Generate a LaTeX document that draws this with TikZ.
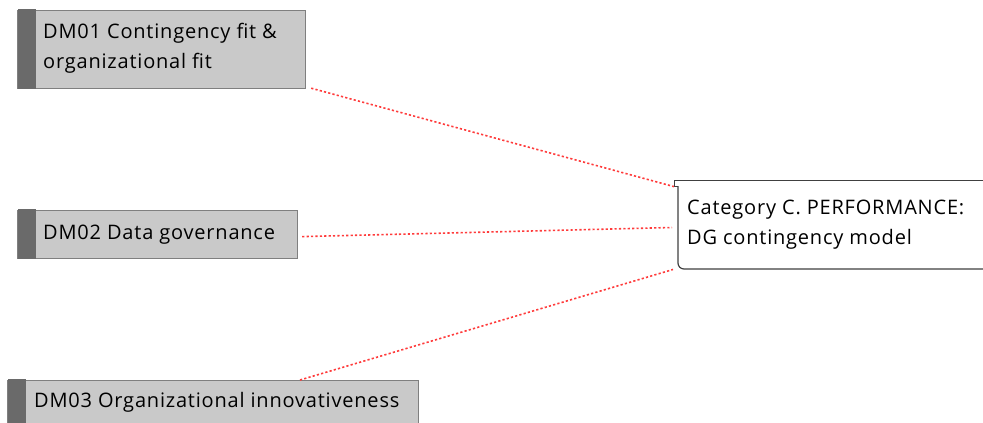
\documentclass[tikz,border=0pt]{standalone}
\usepackage{fontspec}
\setmainfont{Open Sans}[LetterSpace=4]
\definecolor{boxfill}{HTML}{C9C9C9}
\definecolor{boxline}{HTML}{7F7F7F}
\definecolor{stripcol}{HTML}{6A6A6A}
\definecolor{linkred}{HTML}{FF3B3B}
\begin{document}
\begin{tikzpicture}[x=1pt,y=-1pt,
  dmbox/.style={draw=boxline,line width=1.2pt,fill=boxfill,anchor=north west,inner sep=0pt},
  lbl/.style={anchor=base west,inner sep=0pt,align=left,text=black,
    font=\fontsize{20}{30}\selectfont},
  catbox/.style={draw=black!75,line width=1.2pt,fill=white},
  link/.style={draw=linkred,line width=1.6pt,dash pattern=on 2.2pt off 2.2pt}]
\useasboundingbox (0,0) rectangle (983,423);
\clip (0,0) rectangle (983,423);

% requirement boxes
\node[dmbox,minimum width=288pt,minimum height=78pt] (b1) at (17,10) {};
\node[dmbox,minimum width=280pt,minimum height=48pt] (b2) at (17,210) {};
\node[dmbox,minimum width=411pt,minimum height=60pt] (b3) at (7,380) {};

% dark strips on the left side
\foreach \b in {b1,b2,b3}
  \fill[stripcol] ([shift={(0.6,-0.6)}]\b.north west) rectangle ([xshift=19pt,yshift=0.6pt]\b.south west);

% box labels (base anchor sits on the last line)
\node[lbl] (t1) at (43,68) {DM01 Contingency fit \&\\organizational fit};
\node[lbl] (t2) at (43,239) {DM02 Data governance};
\node[lbl] (t3) at (34,407) {DM03 Organizational innovativeness};

% category box with tab on top
\node[catbox,anchor=north west,minimum width=320pt,minimum height=6pt,inner sep=0pt] (tab) at (674,180) {};
\draw[catbox,rounded corners=6pt] (678,186) -- (678,269) -- (1000,269) -- (1000,186);
\coordinate (cat) at (678,227.5);
\node[lbl] (cattext) at (687,244) {Category C. PERFORMANCE:\\DG contingency model};

% links
\draw[link] ([shift={(5,-1)}]b1.south east) -- ([shift={(0,3)}]tab.west);
\draw[link] ([xshift=4pt,yshift=-2pt]b2.east) -- ([xshift=-6pt]cat);
\draw[link] ([xshift=293pt]b3.north west) -- ([shift={(-5,42)}]cat);
\end{tikzpicture}
\end{document}
